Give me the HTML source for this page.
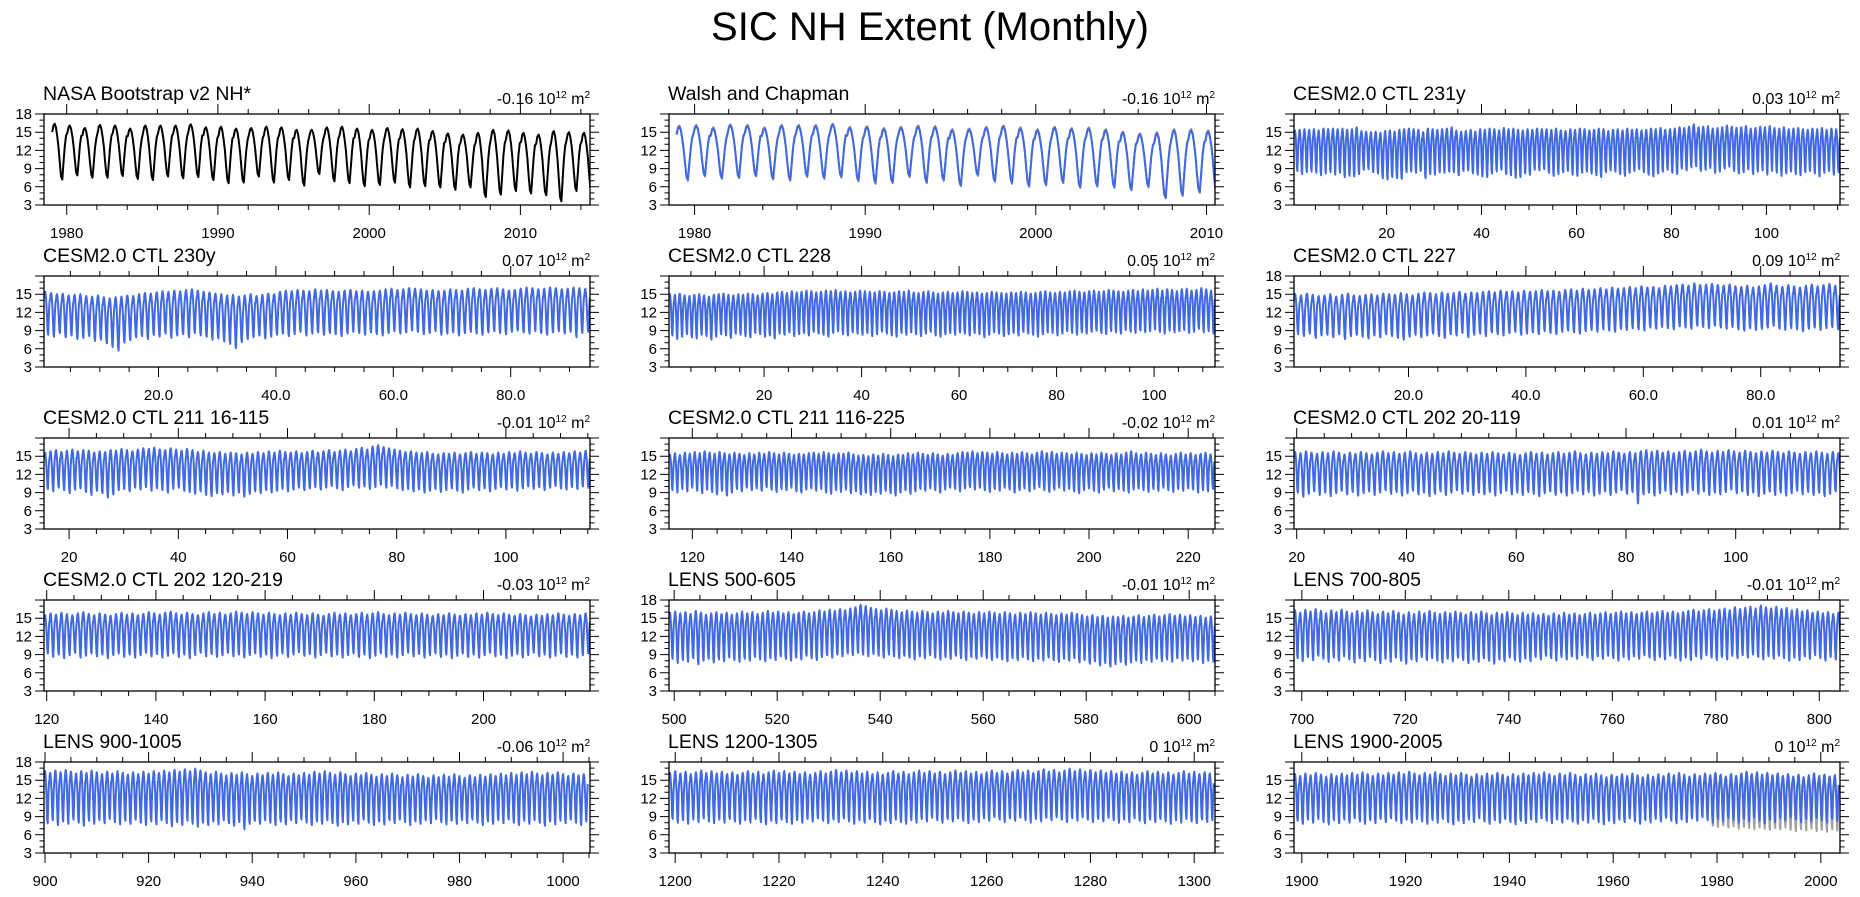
<!DOCTYPE html>
<html><head><meta charset="utf-8"><title>SIC NH Extent (Monthly)</title>
<style>html,body{margin:0;padding:0;background:#fff;}svg{display:block;font-family:"Liberation Sans",Arial,sans-serif;}</style>
</head><body>
<svg id="chart" width="1860" height="897" viewBox="0 0 1860 897" xmlns="http://www.w3.org/2000/svg">
<text x="930" y="40" text-anchor="middle" font-size="40">SIC NH Extent (Monthly)</text>
</svg>
<script>
const p1Max=[16.4,16.1,15.7,16.2,16.1,15.6,16.1,16.1,16.1,16.3,15.8,15.9,15.6,15.7,15.9,15.8,15.4,15.4,15.8,15.9,15.6,15.4,15.7,15.5,15.6,15.2,14.8,14.6,14.9,15.4,15.3,14.9,14.6,15.2,15.0,14.9];
const p1Min=[7.2,7.9,7.5,7.5,7.8,7.3,7.1,7.7,7.4,7.6,7.1,6.6,6.7,7.7,6.7,7.1,6.2,8.1,6.9,6.6,6.1,6.3,6.7,5.9,6.1,5.9,5.5,5.9,4.3,4.7,5.3,4.9,4.6,3.6,5.3,5.2];
const p2Max=[15.9,16.0,15.6,16.1,16.0,15.6,16.0,16.0,16.0,16.2,15.7,15.8,15.5,15.7,15.9,15.8,15.3,15.4,15.7,15.9,15.6,15.3,15.7,15.5,15.6,15.3,14.9,14.6,14.8,15.3,15.3,15.1];
const p2Min=[7.2,7.9,7.5,7.6,7.9,7.4,7.2,7.8,7.5,7.7,7.1,6.7,6.8,7.8,6.8,7.2,6.3,8.0,7.0,6.7,6.2,6.4,6.8,6.0,6.2,6.0,5.6,6.1,4.2,4.6,5.2,5.0];
const p2GrayMax=[16.1,16.2,15.8,16.3,16.2,15.8,16.2,16.2,16.2,16.4,15.9,16.0,15.7,15.9,16.1,16.0,15.5,15.6,15.9,16.1,15.8,15.5,15.9,15.7,15.8,15.5,15.1,14.8,15.0,15.5,15.5,15.3];
const p2GrayMin=[7.0,7.7,7.3,7.4,7.7,7.2,7.0,7.6,7.3,7.5,6.9,6.5,6.6,7.6,6.6,7.0,6.1,7.8,6.8,6.5,6.0,6.2,6.6,5.8,6.0,5.8,5.4,5.9,4.1,4.5,5.0,4.8];
const p3Max=[15.3,15.4,15.5,15.4,15.5,15.3,15.6,15.5,15.6,15.5,15.6,15.4,15.5,15.8,15.2,15.1,15.0,15.1,14.9,15.2,15.3,15.1,15.4,15.5,15.6,15.5,15.4,15.0,15.6,15.5,15.4,15.5,15.6,15.8,15.3,15.1,15.2,15.4,15.1,15.5,15.4,15.6,15.5,15.3,15.7,15.5,15.6,15.4,15.3,15.5,15.4,15.6,15.5,15.5,15.4,15.6,15.3,15.2,15.5,15.4,15.6,15.5,15.3,15.4,15.6,15.5,15.2,15.4,15.5,15.3,15.6,15.4,15.5,15.3,15.4,15.6,15.5,15.7,15.4,15.5,15.6,15.8,15.7,15.9,16.3,15.8,15.9,16.0,15.6,15.7,15.8,16.1,15.9,15.7,15.8,16.0,15.6,15.7,15.9,15.8,16.0,15.7,15.6,15.8,15.5,15.6,15.7,15.5,15.4,15.6,15.5,15.7,15.4,15.6,15.5];
const p3Min=[8.6,8.1,8.4,8.5,8.3,7.9,8.2,8.4,8.0,8.3,7.6,7.8,7.7,8.1,8.8,8.9,8.4,8.2,7.4,7.2,7.6,7.4,7.3,8.4,8.5,8.3,8.6,7.4,8.1,8.0,8.4,8.3,8.5,8.4,7.9,8.6,8.7,8.2,8.0,7.7,7.6,8.2,8.5,8.8,8.1,7.9,7.5,7.6,8.2,8.0,8.8,8.7,8.9,8.3,7.8,8.1,8.4,8.6,8.0,7.8,8.3,8.5,8.2,7.9,7.6,8.4,8.7,8.5,8.1,7.8,8.3,8.6,8.9,8.4,8.0,7.7,8.2,8.5,8.8,8.3,8.1,9.0,8.7,9.2,9.4,8.6,8.8,9.1,8.3,8.5,9.0,9.3,8.6,8.2,8.4,8.9,8.1,8.5,8.7,8.0,8.6,8.3,7.8,8.2,8.5,8.1,7.9,8.4,8.6,8.2,7.7,8.3,8.6,8.0,8.4];
const p4Max=[15.4,15.2,15.0,15.1,14.8,14.9,15.0,14.7,14.6,14.8,14.5,14.3,14.5,14.6,14.8,14.7,15.0,15.2,15.1,15.3,15.5,15.4,15.6,15.5,15.7,15.8,15.6,15.4,15.3,15.1,15.0,14.8,14.9,14.6,14.8,15.0,14.7,14.9,15.1,15.0,15.4,15.6,15.5,15.7,15.6,15.5,15.8,15.6,15.7,15.5,15.4,15.6,15.7,15.5,15.6,15.4,15.5,15.6,15.8,15.9,15.7,15.8,16.0,15.9,15.8,15.6,15.7,15.5,15.6,15.8,15.7,15.6,15.9,16.0,15.8,15.7,15.9,16.0,15.8,15.6,15.7,15.9,16.1,16.0,15.8,15.9,16.1,16.0,15.8,15.9,16.1,16.0,15.9];
const p4Min=[8.3,8.0,8.6,7.9,8.2,7.6,7.8,8.1,7.3,7.5,6.9,6.3,5.7,7.0,7.4,7.9,8.1,7.6,8.3,8.0,8.5,7.8,8.2,8.4,7.9,8.6,8.2,8.0,7.5,7.7,7.2,6.8,6.1,7.1,7.6,7.9,8.2,7.7,8.0,8.3,8.5,8.1,8.4,8.8,8.2,8.5,8.7,8.3,8.6,8.4,8.1,8.5,8.8,8.6,8.3,8.7,8.4,8.2,8.6,8.9,8.5,8.7,9.0,8.8,8.4,8.6,8.9,8.3,8.5,8.7,8.2,8.6,8.8,8.5,8.3,8.7,8.9,8.6,8.4,8.8,9.0,8.7,8.5,8.9,8.6,8.3,8.7,8.9,8.5,8.8,7.9,8.6,8.8];
const p5Max=[15.0,14.9,15.1,14.8,14.7,14.9,15.0,14.8,14.6,14.9,15.0,15.1,14.9,14.8,15.0,14.9,15.1,15.0,14.8,15.1,15.2,15.0,15.3,15.4,15.2,15.5,15.3,15.4,15.6,15.5,15.3,15.4,15.6,15.5,15.7,15.4,15.5,15.3,15.4,15.6,15.5,15.4,15.3,15.5,15.4,15.2,15.3,15.5,15.4,15.6,15.3,15.2,15.4,15.5,15.3,15.1,15.3,15.4,15.2,15.3,15.5,15.4,15.2,15.3,15.1,15.2,15.4,15.3,15.2,15.1,15.3,15.2,15.4,15.3,15.1,15.2,15.4,15.5,15.3,15.2,15.4,15.3,15.5,15.6,15.4,15.3,15.5,15.6,15.4,15.5,15.7,15.6,15.5,15.4,15.6,15.7,15.5,15.8,15.6,15.7,15.9,15.6,15.8,15.7,15.5,15.8,15.9,15.6,15.7,16.0,15.8,15.6];
const p5Min=[8.2,7.6,8.0,8.4,7.9,7.7,8.3,8.1,7.5,8.0,8.4,8.2,7.8,8.5,8.3,8.1,7.9,8.6,8.4,8.0,8.2,7.7,8.5,8.3,8.7,8.1,8.4,8.6,8.2,8.8,8.5,8.3,8.0,8.6,8.9,8.4,8.2,8.7,8.5,8.3,8.6,8.1,8.4,8.8,8.5,8.2,8.0,8.6,8.3,8.7,8.4,8.1,8.5,8.8,8.2,8.0,8.4,8.6,8.3,8.7,8.5,8.2,8.6,8.4,7.9,8.3,8.7,8.5,8.1,8.4,8.6,8.2,8.8,8.5,8.3,8.0,8.4,8.7,8.6,8.2,8.5,8.9,8.6,8.3,8.7,8.5,8.8,9.0,8.6,8.4,8.9,8.7,8.5,9.1,8.8,8.6,9.0,8.7,8.9,9.2,8.8,8.5,9.0,8.7,8.9,9.1,8.6,8.8,9.3,8.7,8.9,8.5];
const p6Max=[15.0,14.8,15.1,14.9,14.7,14.8,15.0,14.6,14.9,15.1,14.8,14.7,14.9,15.0,14.8,15.1,15.0,14.9,15.2,15.0,14.8,15.1,15.3,15.2,15.0,15.3,15.1,15.2,15.4,15.1,15.3,15.2,15.4,15.5,15.3,15.6,15.4,15.5,15.3,15.6,15.4,15.5,15.7,15.5,15.6,15.4,15.7,15.8,15.6,15.9,15.7,15.8,16.0,15.8,16.1,15.9,16.0,16.2,16.0,16.3,16.1,16.2,16.0,16.4,16.3,16.5,16.6,16.4,16.8,16.5,16.6,16.7,16.5,16.4,16.6,16.3,16.2,16.4,16.1,16.3,16.5,16.8,16.4,16.2,16.5,16.3,16.1,16.4,16.6,16.3,16.5,16.7,16.4];
const p6Min=[8.4,8.1,8.5,7.8,8.2,8.3,7.9,8.4,7.6,8.1,8.3,8.0,7.7,8.2,7.9,8.4,8.1,7.8,7.5,8.0,8.3,7.9,8.2,8.5,8.1,7.8,8.4,8.2,8.6,7.9,8.3,8.5,8.1,8.7,8.4,8.2,8.6,8.8,8.3,8.5,8.7,8.4,8.9,8.6,8.4,8.8,9.0,8.7,8.5,8.9,9.1,8.8,9.2,9.0,8.8,9.3,9.1,9.4,9.2,9.0,9.5,9.3,9.6,9.4,9.2,9.7,9.5,9.3,9.8,9.6,9.4,9.8,9.5,9.3,9.6,9.2,9.0,9.4,9.1,9.3,9.5,9.8,9.3,9.1,9.4,9.2,8.9,9.3,9.5,9.1,9.4,9.6,9.2];
const p7Max=[15.6,15.8,16.0,15.7,15.9,16.1,15.8,16.0,15.9,15.6,15.8,15.7,16.0,15.9,16.2,16.0,15.8,16.1,16.3,16.2,16.4,16.1,16.0,16.3,16.1,15.9,16.2,16.0,15.7,15.9,15.6,15.5,15.7,15.4,15.6,15.5,15.3,15.6,15.4,15.7,15.5,15.8,15.6,15.9,15.7,15.6,15.8,15.5,15.7,15.9,15.6,15.8,16.0,15.7,15.9,16.1,15.8,16.2,16.4,16.1,16.6,16.8,16.5,16.3,16.1,15.9,15.7,15.8,15.6,15.5,15.7,15.4,15.3,15.5,15.4,15.6,15.3,15.5,15.7,15.4,15.6,15.5,15.3,15.6,15.4,15.7,15.5,15.8,15.6,15.4,15.7,15.5,15.3,15.6,15.4,15.7,15.5,15.8,15.6,15.9];
const p7Min=[9.6,9.2,9.8,9.4,8.9,9.5,9.7,9.1,8.6,9.3,8.9,8.2,8.7,9.4,9.6,9.2,9.8,9.5,9.9,9.3,9.7,9.4,9.0,9.6,9.8,9.3,9.1,8.8,9.2,8.6,8.4,8.9,8.7,9.1,8.5,9.0,8.3,8.8,9.2,8.9,9.4,9.0,9.3,9.6,9.2,9.5,9.8,9.4,9.7,9.9,9.5,9.8,10.1,9.7,9.4,9.9,10.2,9.8,10.0,9.6,9.9,10.3,9.8,10.1,9.7,9.4,9.6,9.2,9.5,9.0,9.3,9.6,9.1,9.4,9.7,9.3,9.0,9.5,9.8,9.4,9.7,9.2,9.6,9.9,9.5,9.8,9.3,9.7,10.0,9.6,9.9,9.4,9.8,10.1,9.7,9.5,9.9,9.6,10.0,9.8];
const p8Max=[15.3,15.5,15.2,15.6,15.4,15.7,15.5,15.8,15.6,15.4,15.7,15.5,15.3,15.6,15.4,15.2,15.5,15.3,15.6,15.4,15.7,15.5,15.3,15.6,15.4,15.2,15.4,15.3,15.5,15.6,15.4,15.7,15.5,15.3,15.5,15.4,15.6,15.3,15.1,15.2,15.0,15.3,15.1,15.4,15.2,15.0,15.3,15.2,15.5,15.3,15.6,15.4,15.2,15.5,15.3,15.1,15.4,15.2,15.5,15.7,15.6,15.8,15.5,15.7,15.6,15.4,15.7,15.5,15.3,15.6,15.4,15.7,15.5,15.3,15.6,15.8,15.5,15.7,15.4,15.6,15.5,15.3,15.6,15.4,15.2,15.5,15.3,15.6,15.4,15.2,15.5,15.3,15.6,15.8,15.5,15.3,15.6,15.4,15.2,15.5,15.3,15.1,15.4,15.6,15.3,15.5,15.2,15.4,15.6,15.3];
const p8Min=[9.4,9.0,9.6,9.2,9.8,9.3,8.9,9.5,9.1,8.7,9.3,8.5,9.0,9.6,9.2,9.8,9.4,9.7,9.3,9.9,9.5,9.1,9.6,9.4,9.8,9.2,9.0,9.5,9.7,9.3,9.6,9.0,8.8,9.4,9.1,9.5,8.9,9.2,8.7,9.0,8.6,9.1,8.8,9.3,8.9,8.5,9.0,9.4,8.8,9.2,9.6,9.3,9.7,9.4,9.0,9.5,9.8,9.6,9.2,9.7,9.9,9.5,9.8,9.4,9.1,9.6,9.3,9.8,9.5,9.0,9.4,9.7,9.2,9.6,9.9,9.4,9.1,9.5,9.8,9.3,9.6,9.2,8.9,9.4,9.7,9.3,9.0,9.5,9.8,9.2,9.6,9.3,9.0,9.5,9.7,9.4,9.1,9.6,9.3,9.8,9.4,9.1,9.6,9.3,9.7,9.5,9.0,9.4,9.2,9.6];
const p9Max=[15.7,15.5,15.8,15.6,15.4,15.7,15.5,15.8,15.6,15.3,15.6,15.4,15.7,15.5,15.3,15.6,15.8,15.5,15.7,15.4,15.6,15.8,15.5,15.3,15.6,15.4,15.7,15.5,15.8,15.6,15.4,15.7,15.5,15.3,15.6,15.4,15.7,15.5,15.3,15.6,15.4,15.2,15.5,15.7,15.4,15.6,15.3,15.5,15.7,15.4,15.6,15.8,15.5,15.3,15.6,15.4,15.7,15.5,15.8,15.6,15.4,15.7,15.5,15.8,16.0,15.7,15.9,15.6,15.8,15.5,15.7,15.9,15.6,15.8,16.1,15.8,15.6,15.9,15.7,16.0,15.8,15.6,15.9,15.7,15.5,15.8,15.6,15.9,15.7,15.5,15.8,15.6,15.4,15.7,15.5,15.8,15.6,15.4,15.7,15.5];
const p9Min=[9.0,8.3,8.8,9.2,8.6,9.0,8.4,8.9,9.3,8.7,9.1,8.5,8.9,9.2,8.6,9.0,9.4,8.8,9.1,8.5,8.9,9.3,8.7,9.0,8.4,8.8,9.2,8.6,9.0,9.4,8.8,9.2,8.6,9.0,8.7,9.1,8.5,8.9,9.3,8.7,9.0,8.6,9.1,8.8,8.4,8.9,9.2,8.6,9.0,8.5,8.9,9.3,8.7,9.1,8.5,8.8,9.2,8.6,9.0,9.4,8.8,9.1,7.2,8.7,9.0,8.5,8.9,9.3,8.7,9.1,8.6,9.0,9.4,8.8,9.2,8.6,9.0,8.7,9.1,9.5,8.9,9.2,8.6,9.0,8.4,8.8,9.2,8.6,9.0,8.5,8.9,9.3,8.7,9.1,8.6,9.0,8.4,8.8,9.2,8.7];
const p10Max=[15.5,15.8,15.6,15.9,15.7,15.5,15.8,16.0,15.7,15.5,15.8,15.6,15.4,15.7,15.9,15.6,15.8,15.5,15.7,16.0,15.8,15.6,15.9,16.1,15.8,15.6,15.9,15.7,15.5,15.8,16.0,15.7,15.9,15.6,15.8,16.1,15.9,15.7,16.0,15.8,15.6,15.9,15.7,15.5,15.8,15.6,15.9,15.7,15.5,15.8,15.6,15.4,15.7,15.9,15.6,15.8,15.5,15.7,15.9,15.6,15.8,16.0,15.7,15.5,15.8,15.6,15.9,15.7,15.5,15.8,15.6,15.4,15.7,15.5,15.8,15.6,15.4,15.7,15.5,15.8,15.6,15.9,15.7,15.5,15.8,15.6,15.4,15.7,15.5,15.3,15.6,15.4,15.7,15.5,15.8,15.6,15.4,15.7,15.5,15.8];
const p10Min=[9.2,8.6,9.0,8.4,8.9,9.3,8.5,8.8,9.2,8.7,9.0,8.4,8.9,9.2,8.6,9.0,8.5,8.9,9.3,8.7,9.1,8.5,8.8,9.2,8.6,9.0,8.4,8.9,9.3,8.7,9.1,8.6,8.9,9.3,8.7,9.0,8.5,8.9,9.2,8.6,9.0,8.4,8.8,9.2,8.6,9.0,9.4,8.8,9.1,8.5,8.9,9.3,8.7,9.0,8.5,8.9,9.2,8.6,9.0,8.4,8.8,9.2,8.6,9.0,8.5,8.9,9.3,8.7,9.1,8.5,8.9,9.2,8.6,9.0,8.4,8.8,9.2,8.6,9.0,8.5,8.9,9.3,8.7,9.0,8.4,8.8,9.1,8.5,8.9,9.3,8.7,9.0,8.5,8.8,9.2,8.6,9.0,8.5,8.9,9.2];
const p11Max=[15.9,16.1,15.8,16.0,15.7,16.2,15.9,15.6,15.8,16.0,15.7,15.9,15.6,15.8,16.1,15.8,16.0,15.7,15.9,16.2,15.9,16.1,15.8,16.0,15.7,15.9,16.1,15.8,16.0,16.3,16.1,16.4,16.2,16.5,16.3,16.6,16.8,17.2,17.0,16.7,16.5,16.3,16.6,16.4,16.2,16.0,16.3,16.1,15.9,16.2,16.0,15.8,16.1,15.9,16.2,16.0,15.8,16.1,15.9,15.7,16.0,15.8,16.1,15.9,15.7,16.0,15.8,15.6,15.9,15.7,16.0,15.8,15.6,15.9,15.7,15.5,15.8,15.6,15.9,15.7,15.5,15.3,15.5,15.2,15.4,15.1,15.3,15.2,15.4,15.1,15.3,15.5,15.2,15.4,15.6,15.3,15.5,15.7,15.4,15.6,15.3,15.5,15.2,15.4,15.1,15.3];
const p11Min=[8.3,7.6,8.1,7.8,8.4,7.4,8.0,8.3,7.7,8.2,7.9,8.5,8.1,7.8,8.3,8.0,8.6,8.2,7.9,8.4,8.1,8.7,8.3,8.0,8.5,8.2,8.8,8.4,8.1,8.6,8.9,8.5,9.0,8.7,9.2,8.9,9.3,9.0,8.7,9.1,8.8,8.5,9.0,8.7,8.4,8.8,8.5,8.2,8.7,8.4,8.9,8.5,8.2,8.6,8.3,8.8,8.4,8.1,8.6,8.3,8.7,8.4,8.1,8.5,8.2,7.9,8.4,8.1,8.6,8.2,7.9,8.3,8.0,8.5,8.1,7.8,8.3,8.0,8.4,7.7,8.1,7.5,7.9,7.2,7.6,7.0,7.4,7.8,7.3,7.7,8.0,7.6,8.1,7.8,8.3,7.9,8.2,7.8,8.4,8.0,8.3,7.9,8.2,7.6,8.0,7.8];
const p12Max=[16.3,15.9,16.4,16.1,16.5,16.2,15.8,16.3,16.0,16.4,16.1,15.8,16.2,15.9,16.3,16.0,15.7,16.1,15.8,16.2,15.9,15.6,16.0,15.7,16.1,15.8,16.2,15.9,15.7,16.0,15.8,16.1,15.9,15.6,16.0,15.7,16.1,15.8,15.5,15.9,15.7,16.0,15.8,15.5,15.9,15.6,15.8,15.5,15.7,15.4,15.8,15.5,15.9,15.6,15.8,15.5,15.7,15.9,15.6,15.8,16.0,15.7,15.9,16.1,15.8,16.0,15.7,15.9,16.1,15.8,16.0,16.2,15.9,16.1,15.8,16.0,16.2,16.4,16.1,16.3,16.5,16.2,16.4,16.6,16.3,16.8,16.5,16.7,16.9,16.6,17.1,16.8,16.6,16.9,16.5,16.7,16.3,16.5,16.1,16.3,15.9,16.1,15.8,16.0,15.7,15.9];
const p12Min=[8.4,7.9,8.6,8.1,8.8,8.3,7.8,8.5,8.0,8.7,8.2,7.7,8.4,7.9,8.6,8.1,7.6,8.3,7.8,8.5,8.0,7.5,8.2,7.9,8.6,8.1,8.4,8.0,7.7,8.3,7.9,8.5,8.1,7.6,8.2,7.8,8.4,8.0,7.5,8.2,7.9,8.5,8.1,7.8,8.3,7.9,8.6,8.2,8.8,8.4,8.0,8.6,8.2,8.7,8.3,8.9,8.5,8.1,8.7,8.3,8.8,8.4,8.0,8.6,8.2,8.7,8.3,8.9,8.5,8.1,8.6,8.2,8.8,8.4,8.0,8.5,8.1,8.7,8.3,8.9,8.5,8.1,8.6,8.2,8.8,8.4,8.9,8.5,9.0,8.6,8.2,8.7,8.3,8.8,8.4,8.0,8.5,8.1,8.7,8.3,8.9,8.4,8.0,8.6,8.2,8.5];
const p13Max=[16.5,16.2,16.6,16.3,16.7,16.4,16.1,16.5,16.2,16.6,16.3,16.0,16.4,16.1,16.5,16.2,15.9,16.3,16.0,16.4,16.1,16.5,16.2,16.6,16.3,16.7,16.4,16.8,16.5,16.9,16.6,16.3,16.0,16.4,16.1,15.8,16.2,15.9,16.3,16.0,15.7,16.1,15.8,16.2,15.9,16.3,16.0,15.7,16.1,15.8,16.2,15.9,16.4,16.1,16.5,16.2,15.9,16.3,16.0,15.7,16.1,15.8,16.2,15.9,15.6,16.0,15.7,16.1,15.8,15.5,15.9,15.6,16.0,15.7,15.4,15.8,15.5,15.9,15.6,16.0,15.7,15.4,15.8,15.5,15.9,15.6,16.0,15.7,16.1,15.8,16.2,15.9,16.3,16.0,16.4,16.1,15.8,16.2,15.9,16.3,16.0,15.7,16.1,15.8,16.0];
const p13Min=[7.9,8.4,7.6,8.2,7.8,8.5,8.0,7.5,8.3,7.8,8.4,7.9,8.6,8.1,7.7,8.3,7.8,8.5,8.0,7.6,8.2,7.7,8.4,7.9,7.4,8.1,7.6,8.3,7.8,7.3,8.0,7.6,8.2,7.7,8.4,7.9,7.5,8.1,6.9,7.8,8.3,7.8,8.4,8.0,7.6,8.2,7.7,8.4,7.9,8.5,8.0,7.6,8.2,7.8,8.4,7.9,7.5,8.1,7.7,8.3,7.8,8.5,8.0,7.6,8.2,7.7,8.4,7.9,8.5,8.1,7.6,8.2,7.8,8.4,7.9,8.6,8.1,7.7,8.3,7.8,8.4,7.9,8.5,8.0,7.6,8.2,7.8,8.4,7.9,8.5,8.0,7.6,8.3,7.8,8.4,8.0,7.5,8.2,7.7,8.3,7.9,8.5,8.0,7.6,8.2];
const p14Max=[16.2,16.5,16.1,16.4,16.0,16.3,16.6,16.2,16.5,16.1,16.4,16.0,16.3,15.9,16.2,16.5,16.1,16.4,16.0,16.3,16.6,16.2,16.5,16.1,16.4,16.0,16.3,15.9,16.2,16.5,16.1,16.4,16.7,16.3,16.6,16.2,16.5,16.1,16.4,16.0,16.3,15.9,16.2,16.5,16.1,16.4,16.0,16.3,16.6,16.2,16.5,16.1,16.4,16.0,16.3,16.6,16.2,16.5,16.1,16.4,16.0,16.3,16.6,16.2,16.5,16.1,16.4,16.7,16.3,16.6,16.2,16.5,16.8,16.4,16.7,16.3,16.6,16.9,16.5,16.8,16.4,16.7,16.3,16.6,16.2,16.5,16.1,16.4,16.0,16.3,15.9,16.2,16.5,16.1,16.4,16.0,16.3,15.9,16.2,16.5,16.1,16.4,16.0,16.3,16.1];
const p14Min=[8.6,8.0,8.4,7.8,8.5,8.1,8.7,8.2,7.9,8.5,8.0,8.6,8.2,7.8,8.4,8.0,8.6,8.1,7.7,8.3,7.9,8.5,8.1,7.8,8.4,8.0,8.6,8.2,8.7,8.3,7.9,8.5,8.1,8.7,8.2,7.8,8.4,8.0,8.6,8.1,7.7,8.3,7.9,8.5,8.1,7.8,8.4,8.0,8.6,8.2,8.8,8.4,8.0,8.6,8.2,8.7,8.3,7.9,8.5,8.1,8.7,8.3,8.9,8.5,8.1,8.7,8.3,8.8,8.4,8.0,8.6,8.2,8.8,8.4,8.9,8.5,8.1,8.7,8.3,8.9,8.5,8.1,8.6,8.2,8.8,8.4,8.0,8.5,8.1,8.7,8.3,7.9,8.5,8.1,8.6,8.2,7.8,8.4,8.0,8.6,8.2,7.9,8.5,8.1,8.4];
const p15Max=[16.0,15.7,16.1,15.8,16.2,15.9,15.6,16.0,15.7,16.1,15.8,16.2,15.9,16.3,16.0,15.7,16.1,15.8,16.2,15.9,16.3,16.0,16.4,16.1,15.8,16.2,15.9,16.3,16.0,15.7,16.1,15.8,16.2,15.9,15.6,16.0,15.7,16.1,15.8,16.2,15.9,15.6,16.0,15.7,16.1,15.8,16.2,15.9,16.3,16.0,15.7,16.1,15.8,16.2,15.9,15.6,16.0,15.7,16.1,15.8,15.5,15.9,15.6,16.0,15.7,16.1,15.8,15.5,15.9,15.6,16.0,15.7,16.1,15.8,16.2,15.9,15.6,16.0,15.7,16.1,15.8,16.2,15.9,15.6,16.0,15.7,16.1,16.4,16.0,16.3,15.9,16.2,15.8,16.1,15.7,16.0,15.6,15.9,15.5,15.8,16.1,15.7,15.9,15.6,15.8];
const p15Min=[8.3,7.8,8.5,8.0,8.6,8.1,7.7,8.4,7.9,8.5,8.0,8.7,8.2,7.8,8.4,7.9,8.6,8.1,8.7,8.3,7.9,8.5,8.0,8.6,8.2,7.8,8.4,8.0,8.6,8.1,7.7,8.3,7.9,8.5,8.1,8.7,8.2,7.8,8.4,8.0,8.6,8.1,7.7,8.3,7.9,8.5,8.1,8.7,8.3,7.9,8.5,8.0,8.6,8.2,7.8,8.4,8.0,8.6,8.1,7.7,8.3,7.9,8.5,8.1,8.7,8.2,7.8,8.4,8.0,8.6,8.2,8.8,8.3,7.9,8.5,8.1,8.7,8.3,8.9,8.4,8.0,8.6,8.2,8.8,8.4,8.0,8.6,8.2,8.8,8.3,7.9,8.5,8.1,8.7,8.3,8.9,8.5,8.1,8.6,8.2,8.8,8.4,8.0,8.6,8.3];
const p15GrayMin=[7.5,7.3,7.6,7.2,7.4,7.0,7.3,7.1,6.9,7.2,7.0,6.8,7.1,6.9,7.2,6.8,6.6,6.9,6.7,7.0,6.6,6.8,6.5,6.9,6.7,6.4];
const seasonFrac=[0.85,0.97,1.0,0.93,0.78,0.58,0.30,0.06,0.0,0.30,0.60,0.79];
const panelTitles=["NASA Bootstrap v2 NH*","Walsh and Chapman","CESM2.0 CTL 231y","CESM2.0 CTL 230y","CESM2.0 CTL 228","CESM2.0 CTL 227","CESM2.0 CTL 211 16-115","CESM2.0 CTL 211 116-225","CESM2.0 CTL 202 20-119","CESM2.0 CTL 202 120-219","LENS 500-605","LENS 700-805","LENS 900-1005","LENS 1200-1305","LENS 1900-2005"];
const trendLabels=["-0.16","-0.16","0.03","0.07","0.05","0.09","-0.01","-0.02","0.01","-0.03","-0.01","-0.01","-0.06","0","0"];
const xMinVals=[1978.5,1978.5,0.5,0.5,0.5,0.5,15.4,115.3,19.5,119.5,499,698.5,899.8,1198.8,1898.5];
const xMaxVals=[2014.6,2010.5,115.5,93.5,112.5,93.5,115.4,225.4,119,219.5,605,804,1005.2,1304,2003.7];
const seriesStart=[1979,1978.9,0.5,0.5,0.5,0.5,15.4,115.3,19.5,119.5,499,698.5,899.8,1198.8,1898.5];
const xTickFirst=[1980,1980,20,20,20,20,20,120,20,120,500,700,900,1200,1900];
const xTickLast=[2010,2010,100,80,100,80,100,220,100,200,600,800,1000,1300,2000];
const xTickStep=[10,10,20,20,20,20,20,20,20,20,20,20,20,20,20];
const xMinorStep=[2,2,5,5,5,5,5,5,5,5,5,5,5,5,5];
const xTickDecimals=[0,0,0,1,0,1,0,0,0,0,0,0,0,0,0];
const showY18=[true,false,false,false,false,true,false,false,false,false,true,false,true,false,false];
const yTicks=[3,6,9,12,15,18];
const maxSeries=[p1Max,p2Max,p3Max,p4Max,p5Max,p6Max,p7Max,p8Max,p9Max,p10Max,p11Max,p12Max,p13Max,p14Max,p15Max];
const minSeries=[p1Min,p2Min,p3Min,p4Min,p5Min,p6Min,p7Min,p8Min,p9Min,p10Min,p11Min,p12Min,p13Min,p14Min,p15Min];

const NS="http://www.w3.org/2000/svg";
const svg=document.getElementById('chart');
const colLeft=[44,669,1294], rowTop=[114,276,438,600,762], PW=546, PH=91;
function mk(tag,attrs,parent){const e=document.createElementNS(NS,tag);for(const k in attrs)e.setAttribute(k,attrs[k]);(parent||svg).appendChild(e);return e;}
function monthly(mx,mn,start){const pts=[];const n=Math.min(mx.length,mn.length);for(let i=0;i<n;i++){for(let m=0;m<12;m++){pts.push([start+i+(m+0.5)/12,mn[i]+(mx[i]-mn[i])*seasonFrac[m]]);}}return pts;}

for(let p=0;p<15;p++){
  const L=colLeft[p%3], T=rowTop[Math.floor(p/3)];
  const g=mk('g',{});
  
  
  const x0=xMinVals[p], x1=xMaxVals[p];
  const xs=v=>L+(v-x0)/(x1-x0)*PW;
  const ys=v=>T+PH-(v-3)/15*PH;
  const clip=mk('clipPath',{id:'clip'+p},g);
  mk('rect',{x:L,y:T,width:PW,height:PH},clip);
  const tt=mk('text',{x:L-1,y:T-14,'font-size':19.5},g);
  tt.textContent=panelTitles[p];
  
  
  const tr=mk('text',{x:L+PW,y:T-10,'font-size':16,'text-anchor':'end'},g);
  
  
  tr.innerHTML=trendLabels[p]+' 10<tspan font-size="10" dy="-6">12</tspan><tspan dy="6"> m</tspan><tspan font-size="10" dy="-6">2</tspan>';
  const lines=[];
  if(p===1) lines.push([monthly(p2GrayMax,p2GrayMin,seriesStart[1]),'#8c8c8c']);
  if(p===14) lines.push([monthly(p15Max.slice(80),p15GrayMin,seriesStart[14]+80),'#a0a0a0']);
  lines.push([monthly(maxSeries[p],minSeries[p],seriesStart[p]),p===0?'#000000':'#4169e1']);
  lines.forEach((ln,k)=>{
    const d=ln[0].map((pt,i)=>(i?'L':'M')+xs(pt[0]).toFixed(1)+' '+ys(pt[1]).toFixed(1)).join('');
    const path=mk('path',{d:d,fill:'none',stroke:ln[1],'stroke-width':2,'stroke-linejoin':'round','clip-path':'url(#clip'+p+')'},g);
    
    
  });
  const fr=mk('rect',{x:L,y:T,width:PW,height:PH,fill:'none',stroke:'#000','stroke-width':1.3},g);
  
  
  let td='';
  for(let v=3;v<=18.001;v+=1){const y=ys(v).toFixed(1);const major=(v%3===0);const len=major?9:4.5;td+='M'+L+' '+y+'h'+(-len)+'M'+(L+PW)+' '+y+'h'+len;}
  const startMinor=Math.ceil(x0/xMinorStep[p])*xMinorStep[p];
  for(let v=startMinor;v<=x1;v+=xMinorStep[p]){const x=xs(v).toFixed(1);const major=((v-xTickFirst[p])%xTickStep[p]===0);const len=major?10:5;td+='M'+x+' '+(T+PH)+'v'+len+'M'+x+' '+T+'v'+(-len);}
  const tk=mk('path',{d:td,stroke:'#000','stroke-width':1,fill:'none'},g);
  
  
  yTicks.forEach(v=>{
    if(v===18&&!showY18[p])return;
    const t=mk('text',{x:L-12,y:ys(v)+5,'font-size':15,'text-anchor':'end'},g);
    t.textContent=v;
    
    
  });
  for(let v=xTickFirst[p];v<=xTickLast[p];v+=xTickStep[p]){
    const t=mk('text',{x:xs(v),y:T+PH+33,'font-size':15,'text-anchor':'middle'},g);
    t.textContent=v.toFixed(xTickDecimals[p]);
    
    
  }
}
</script>
</body></html>
